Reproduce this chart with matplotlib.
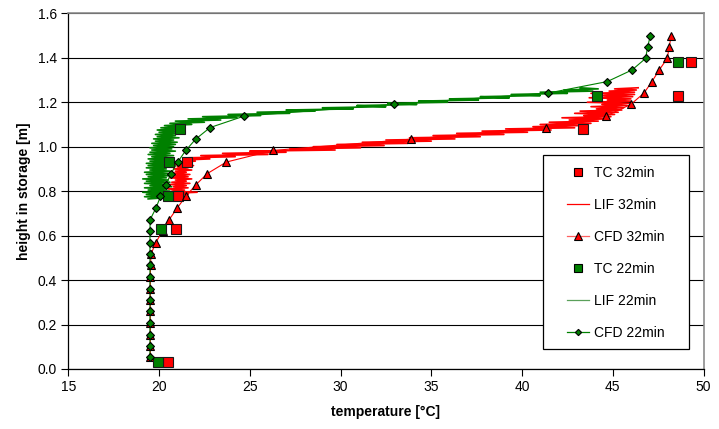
import matplotlib
matplotlib.use("Agg")
import matplotlib.pyplot as plt
from matplotlib.lines import Line2D
from matplotlib.patches import Rectangle
from matplotlib.ticker import FormatStrFormatter

plt.rcParams["font.family"] = ["Liberation Sans", "DejaVu Sans"]

# ---------------- data ----------------
# thermocouple readings
tc_height = [0.03, 0.63, 0.78, 0.93, 1.08, 1.23, 1.38]
tc_32 = [20.48, 20.95, 21.02, 21.54, 43.36, 48.59, 49.29]
tc_22 = [19.96, 20.12, 20.48, 20.55, 21.17, 44.11, 48.61]

# CFD profiles
cfd_height = [0.052, 0.103, 0.155, 0.207, 0.259, 0.310, 0.362, 0.414, 0.466,
              0.517, 0.569, 0.621, 0.672, 0.724, 0.776, 0.828, 0.879, 0.931,
              0.983, 1.034, 1.086, 1.138, 1.190, 1.241, 1.293, 1.345, 1.397,
              1.448, 1.500]
cfd_32 = [19.52, 19.52, 19.52, 19.52, 19.52, 19.52, 19.52, 19.52, 19.53,
          19.56, 19.82, 20.20, 20.56, 21.00, 21.47, 22.02, 22.66, 23.71,
          26.28, 33.90, 41.32, 44.63, 45.99, 46.72, 47.16, 47.56, 48.00,
          48.11, 48.22]
cfd_22 = [19.50, 19.50, 19.50, 19.50, 19.50, 19.50, 19.50, 19.50, 19.50,
          19.50, 19.50, 19.50, 19.51, 19.83, 20.08, 20.37, 20.66, 21.03,
          21.47, 22.02, 22.81, 24.70, 32.93, 41.43, 44.70, 46.06, 46.81,
          46.92, 47.07]

# LIF profiles
lif_22_height = [
    0.765, 0.770, 0.775, 0.780, 0.785, 0.790, 0.795, 0.800, 0.805, 0.810,
    0.815, 0.820, 0.825, 0.830, 0.835, 0.840, 0.845, 0.850, 0.855, 0.860,
    0.865, 0.870, 0.875, 0.880, 0.885, 0.890, 0.895, 0.900, 0.905, 0.910,
    0.915, 0.920, 0.925, 0.930, 0.935, 0.940, 0.945, 0.950, 0.955, 0.960,
    0.965, 0.970, 0.975, 0.980, 0.985, 0.990, 0.995, 1.000, 1.005, 1.010,
    1.015, 1.020, 1.025, 1.030, 1.035, 1.040, 1.045, 1.050, 1.055, 1.060,
    1.065, 1.070, 1.075, 1.080, 1.085, 1.090, 1.095, 1.100, 1.105, 1.110,
    1.115, 1.120, 1.125, 1.130, 1.135, 1.140, 1.145, 1.150, 1.155, 1.160,
    1.165, 1.170, 1.175, 1.180, 1.185, 1.190, 1.195, 1.200, 1.205, 1.210,
    1.215, 1.220, 1.225, 1.230, 1.235, 1.240, 1.245, 1.250, 1.255, 1.260,
    1.265]
lif_22 = [
    19.4, 20.3, 19.2, 20.5, 19.3, 20.2, 19.1, 20.6, 19.4, 20.4,
    19.2, 20.7, 19.5, 20.3, 19.2, 20.6, 19.3, 20.5, 19.1, 20.4,
    19.4, 20.7, 19.3, 20.5, 19.2, 20.6, 19.5, 20.4, 19.3, 20.8,
    19.4, 20.5, 19.3, 20.6, 19.5, 20.7, 19.4, 20.5, 19.6, 20.8,
    19.4, 20.6, 19.5, 20.9, 19.6, 20.7, 19.5, 20.8, 19.7, 20.9,
    19.6, 21.0, 19.8, 20.8, 19.7, 21.1, 19.9, 20.9, 19.8, 21.2,
    20.0, 21.0, 19.9, 21.3, 20.1, 21.4, 20.3, 21.8, 20.6, 22.5,
    20.9, 23.4, 21.6, 24.3, 22.4, 25.6, 23.8, 27.2, 25.4, 28.6,
    27.0, 30.7, 29.0, 32.5, 30.9, 34.2, 32.6, 35.9, 34.3, 37.6,
    36.0, 39.3, 37.7, 41.0, 39.4, 42.5, 41.0, 43.9, 42.3, 44.2,
    43.2]

lif_32_height = [
    0.780, 0.785, 0.790, 0.795, 0.800, 0.805, 0.810, 0.815, 0.820, 0.825,
    0.830, 0.835, 0.840, 0.845, 0.850, 0.855, 0.860, 0.865, 0.870, 0.875,
    0.880, 0.885, 0.890, 0.895, 0.900, 0.905, 0.910, 0.915, 0.920, 0.925,
    0.930, 0.935, 0.940, 0.945, 0.950, 0.955, 0.960, 0.965, 0.970, 0.975,
    0.980, 0.985, 0.990, 0.995, 1.000, 1.005, 1.010, 1.015, 1.020, 1.025,
    1.030, 1.035, 1.040, 1.045, 1.050, 1.055, 1.060, 1.065, 1.070, 1.075,
    1.080, 1.085, 1.090, 1.095, 1.100, 1.105, 1.110, 1.115, 1.120, 1.125,
    1.130, 1.135, 1.140, 1.145, 1.150, 1.155, 1.160, 1.165, 1.170, 1.175,
    1.180, 1.185, 1.190, 1.195, 1.200, 1.205, 1.210, 1.215, 1.220, 1.225,
    1.230, 1.235, 1.240, 1.245, 1.250, 1.255, 1.260, 1.265]
lif_32 = [
    20.8, 21.6, 20.6, 22.1, 20.7, 21.4, 20.5, 21.6, 20.8, 21.5,
    20.6, 21.7, 20.7, 21.5, 20.9, 21.8, 20.6, 21.6, 20.8, 21.7,
    20.7, 21.5, 20.9, 21.8, 20.8, 21.6, 21.0, 21.9, 20.9, 21.7,
    21.1, 22.0, 21.3, 22.8, 21.6, 24.2, 22.3, 26.0, 23.5, 27.0,
    25.0, 29.7, 27.2, 31.1, 28.5, 32.4, 29.8, 33.7, 31.2, 35.0,
    32.5, 36.3, 33.8, 37.7, 35.1, 39.0, 36.4, 40.3, 37.8, 41.6,
    39.1, 42.9, 40.6, 43.2, 41.0, 43.8, 41.5, 44.2, 42.6, 44.6,
    42.2, 44.9, 43.4, 45.1, 42.9, 45.3, 43.2, 45.5, 44.1, 45.6,
    43.8, 45.8, 44.4, 45.9, 43.6, 46.0, 44.7, 46.0, 43.7, 46.1,
    44.5, 46.2, 43.8, 46.2, 44.8, 46.3, 45.1, 46.4]

x_ticks = [15, 20, 25, 30, 35, 40, 45, 50]
y_ticks = [0.0, 0.2, 0.4, 0.6, 0.8, 1.0, 1.2, 1.4, 1.6]

RED = "#FF0000"
GREEN = "#008000"

# ---------------- figure ----------------
W, H = 719, 429
fig = plt.figure(figsize=(W / 100, H / 100), dpi=100)
x0, x1, y_top, y_bot = 68.3, 703.5, 13.3, 369.0
ax = fig.add_axes([x0 / W, (H - y_bot) / H, (x1 - x0) / W, (y_bot - y_top) / H])

# lines first (series order), markers afterwards
ax.plot(lif_32, lif_32_height, color=RED, lw=1.2, zorder=2.0)
ax.plot(cfd_32, cfd_height, color=RED, lw=0.8, zorder=2.1)
ax.plot(lif_22, lif_22_height, color=GREEN, lw=1.2, zorder=2.2)
ax.plot(cfd_22, cfd_height, color=GREEN, lw=0.8, zorder=2.3)

ax.plot(tc_32, tc_height, ls="none", marker="s", ms=7.2, mfc=RED,
        mec="#1a1a1a", mew=0.8, zorder=3.0)
ax.plot(cfd_32, cfd_height, ls="none", marker="^", ms=5.6, mfc=RED,
        mec="black", mew=0.8, zorder=3.1)
ax.plot(tc_22, tc_height, ls="none", marker="s", ms=7.2, mfc=GREEN,
        mec="#1a1a1a", mew=0.8, zorder=3.2)
ax.plot(cfd_22, cfd_height, ls="none", marker="D", ms=3.6, mfc=GREEN,
        mec="black", mew=0.8, zorder=3.3)

ax.set_xlim(15, 50)
ax.set_ylim(0, 1.6)
ax.set_xticks(x_ticks)
ax.set_yticks(y_ticks)
ax.yaxis.set_major_formatter(FormatStrFormatter("%.1f"))
ax.tick_params(axis="both", direction="out", length=5, width=0.8,
               labelsize=10, colors="black", pad=3)

ax.set_axisbelow(True)
ax.yaxis.grid(True, color="black", lw=0.8)
ax.xaxis.grid(False)

for side in ("left", "bottom"):
    ax.spines[side].set_color("black")
    ax.spines[side].set_linewidth(0.9)
for side in ("top", "right"):
    ax.spines[side].set_color("#8c8c8c")
    ax.spines[side].set_linewidth(1.2)

ax.set_xlabel("temperature [°C]", fontsize=10, fontweight="bold", labelpad=8)
ax.set_ylabel("height in storage [m]", fontsize=10, fontweight="bold",
              labelpad=5)

# legend with a plain square frame
lx0, lx1, ly0, ly1 = 543, 689, 155, 349
frame = Rectangle((lx0 / W, (H - ly1) / H), (lx1 - lx0) / W, (ly1 - ly0) / H,
                  transform=fig.transFigure, facecolor="white",
                  edgecolor="black", lw=0.9, zorder=10, clip_on=False)
ax.add_patch(frame)

handles = [
    Line2D([], [], ls="none", marker="s", ms=5.4, mfc=RED, mec="black", mew=0.8),
    Line2D([], [], color=RED, lw=0.9),
    Line2D([], [], color="#ff6060", lw=0.9, marker="^", ms=5.2, mfc=RED,
           mec="black", mew=0.8),
    Line2D([], [], ls="none", marker="s", ms=5.4, mfc=GREEN, mec="black", mew=0.8),
    Line2D([], [], color="#5aa05a", lw=0.9),
    Line2D([], [], color=GREEN, lw=0.9, marker="D", ms=3.2, mfc=GREEN,
           mec="black", mew=0.8),
]
labels = ["TC 32min", "LIF 32min", "CFD 32min", "TC 22min", "LIF 22min",
          "CFD 22min"]
leg = ax.legend(handles, labels, loc="center",
                bbox_to_anchor=(616 / W, (H - 253) / H),
                bbox_transform=fig.transFigure, frameon=False, fontsize=10,
                handlelength=1.6, handletextpad=0.35, labelspacing=1.3,
                borderpad=0.2, numpoints=1)
leg.set_zorder(11)

fig.savefig("out.png", dpi=100)
